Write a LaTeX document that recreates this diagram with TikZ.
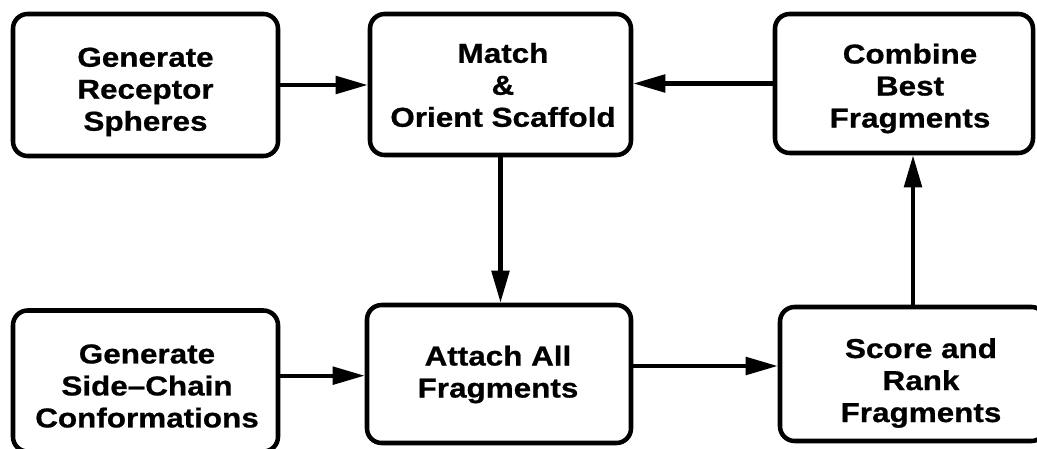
\documentclass[tikz,border=0pt]{standalone}
\usepackage{fontspec}
\setmainfont{Liberation Sans}[FakeStretch=1.15, BoldFeatures={FakeBold=0.8}]
\usetikzlibrary{arrows.meta}

\tikzset{every picture/.style={line width=0.75pt}}
\tikzset{
  stepbox/.style={draw, line width=3.4pt, rounded corners=11pt, inner sep=0pt},
  steptext/.style={align=center, inner sep=0pt, font=\fontsize{20.5}{24}\selectfont\bfseries},
  flow/.style={line width=3.2pt, -{Triangle[length=24pt,width=13pt]}}
}

\begin{document}
\begin{tikzpicture}[x=0.75pt,y=0.75pt,yscale=-1,xscale=1]
\useasboundingbox (0,0) rectangle (1037,449);

%Rounded Rect (top row)
\node[stepbox, minimum width=198.75pt, minimum height=106.5pt] (genspheres) at (145.5,85) {};
\node[stepbox, minimum width=195.75pt, minimum height=105.75pt] (match) at (500.5,84.5) {};
\node[stepbox, minimum width=193.5pt, minimum height=104.25pt] (combine) at (904,83.5) {};
%Rounded Rect (bottom row)
\node[stepbox, minimum width=198.75pt, minimum height=105.75pt] (gensides) at (145.5,381) {};
\node[stepbox, minimum width=198pt, minimum height=103.5pt] (attach) at (499,374) {};
\node[stepbox, minimum width=199.5pt, minimum height=100.5pt] (score) at (913,374) {};

% Text Node
\node[steptext] (genspheres-txt) at (145.5,92) {Generate\\Receptor\\Spheres};
% Text Node
\node[steptext] (match-txt) at (503,85) {Match\\\&\\Orient Scaffold};
% Text Node
\node[steptext] (combine-txt) at (910,88.5) {Combine\\Best\\Fragments};
% Text Node
\node[steptext] (gensides-txt) at (147,386) {Generate\\Side–Chain\\Conformations};
% Text Node
\node[steptext] (attach-txt) at (498,374.5) {Attach All\\Fragments};
% Text Node
\node[steptext] (score-txt) at (921,383) {Score and\\Rank\\Fragments};

% Connection
\draw[flow] (genspheres.east) -- (genspheres.east -| match.west);
% Connection
\draw[flow] (combine.west) -- (combine.west -| match.east);
% Connection
\draw[flow] (match.south) -- (match.south |- attach.north);
% Connection
\draw[flow] ([yshift=-4pt]gensides.east) -- ([yshift=-4pt]gensides.east -| attach.west);
% Connection
\draw[flow] ([yshift=-6pt]attach.east) -- ([yshift=-6pt]attach.east -| score.west);
% Connection
\draw[flow] (score.north) -- (score.north |- combine.south);

\end{tikzpicture}
\end{document}
